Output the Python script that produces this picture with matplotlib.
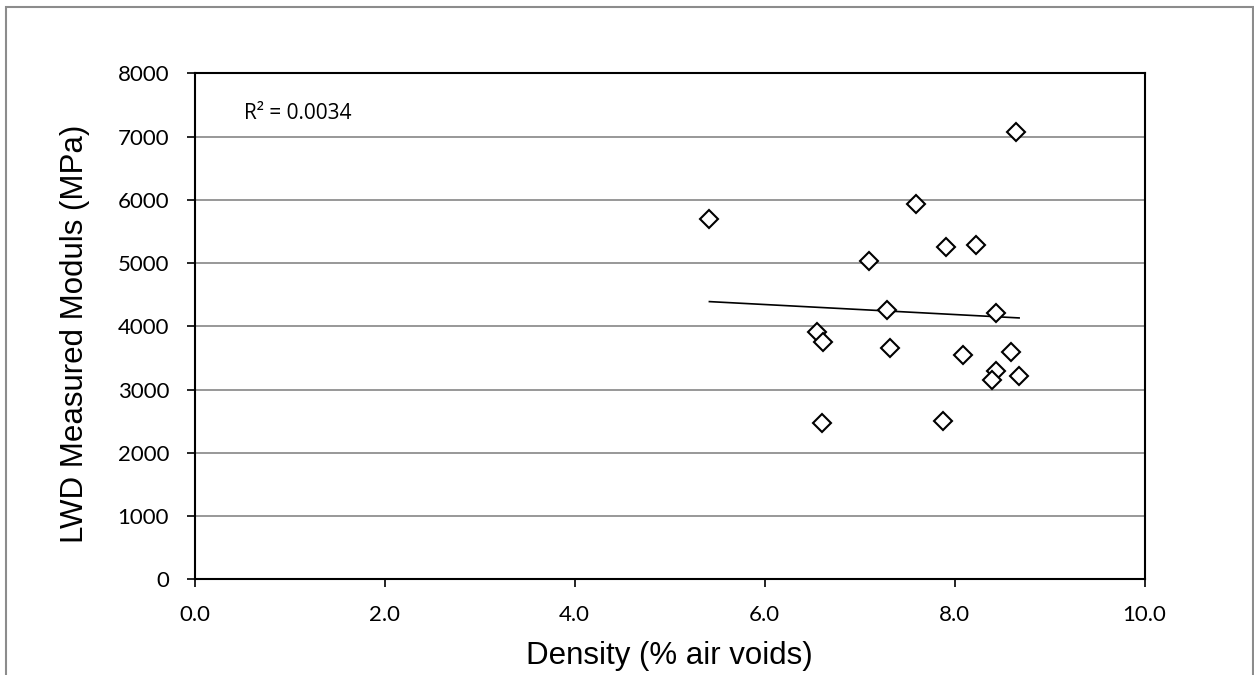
import numpy as np
import matplotlib
matplotlib.use("Agg")
import matplotlib.pyplot as plt
from matplotlib.patches import Rectangle
from matplotlib.ticker import FormatStrFormatter

# Field measurements: air voids (%) vs. LWD modulus (MPa)
air_voids = [5.42, 7.59, 7.91, 8.23, 7.10, 7.29, 8.44, 6.55, 6.62,
             7.32, 8.09, 8.59, 8.44, 8.39, 8.68, 6.60, 7.88, 8.65]
modulus = [5700, 5930, 5260, 5280, 5030, 4260, 4205, 3915, 3757,
           3662, 3546, 3594, 3298, 3151, 3214, 2466, 2498, 7077]

x_ticks = [0, 2, 4, 6, 8, 10]
y_ticks = [0, 1000, 2000, 3000, 4000, 5000, 6000, 7000, 8000]
r2_label = "R\u00b2 = 0.0034"
x_title = "Density (% air voids)"
y_title = "LWD Measured Moduls (MPa)"

W, H = 1254, 675
fig = plt.figure(figsize=(W / 100, H / 100), dpi=100)
fig.patch.set_facecolor("white")

ax = fig.add_axes([194.5 / W, (H - 579.3) / H, 950 / W, 506 / H])

tick_font = dict(family=["Lato", "DejaVu Sans"], size=16)
label_font = dict(family=["Liberation Sans", "DejaVu Sans"], size=22.5)

# scatter of the measurements
ax.plot(air_voids, modulus, linestyle="none", marker="D", markersize=9,
        markerfacecolor="white", markeredgecolor="black", markeredgewidth=1.5,
        zorder=4)

# linear trend line over the data range
x = np.asarray(air_voids, dtype=float)
y = np.asarray(modulus, dtype=float)
slope, intercept = np.polyfit(x, y, 1)
xs = np.array([x.min(), x.max()])
ax.plot(xs, slope * xs + intercept, color="black", lw=1.2, zorder=3)

ax.set_xlim(0, 10)
ax.set_ylim(0, 8000)
ax.set_xticks(x_ticks)
ax.set_yticks(y_ticks)
ax.xaxis.set_major_formatter(FormatStrFormatter("%.1f"))
ax.yaxis.set_major_formatter(FormatStrFormatter("%d"))

ax.yaxis.grid(True, color="#868686", lw=1.2)
ax.xaxis.grid(False)
ax.set_axisbelow(True)

for side in ["left", "right", "top", "bottom"]:
    ax.spines[side].set_color("black")
    ax.spines[side].set_linewidth(1.5)

ax.tick_params(axis="both", direction="out", length=5.8, width=1.2,
               color="black", labelcolor="black")
ax.tick_params(axis="x", pad=13)
ax.tick_params(axis="y", pad=12.5)
for lbl in ax.get_xticklabels() + ax.get_yticklabels():
    lbl.set_fontfamily(tick_font["family"])
    lbl.set_fontsize(tick_font["size"])

ax.set_xlabel(x_title, **label_font)
ax.set_ylabel(y_title, **label_font)
ax.xaxis.set_label_coords(0.5, -0.122)
ax.yaxis.set_label_coords(-0.1105, 0.486)

ax.text(0.052, 0.9097, r2_label, transform=ax.transAxes, ha="left",
        va="baseline", family=["Open Sans", "DejaVu Sans"], size=15)

# thin grey frame around the chart area
fig.add_artist(Rectangle((5.5 / W, -0.1), (1252.5 - 5.5) / W, (H - 7.5) / H + 0.1,
                         transform=fig.transFigure, fill=False,
                         edgecolor="#8c8c8c", lw=1.5, clip_on=False))

fig.savefig("out.png", dpi=100, facecolor="white")
